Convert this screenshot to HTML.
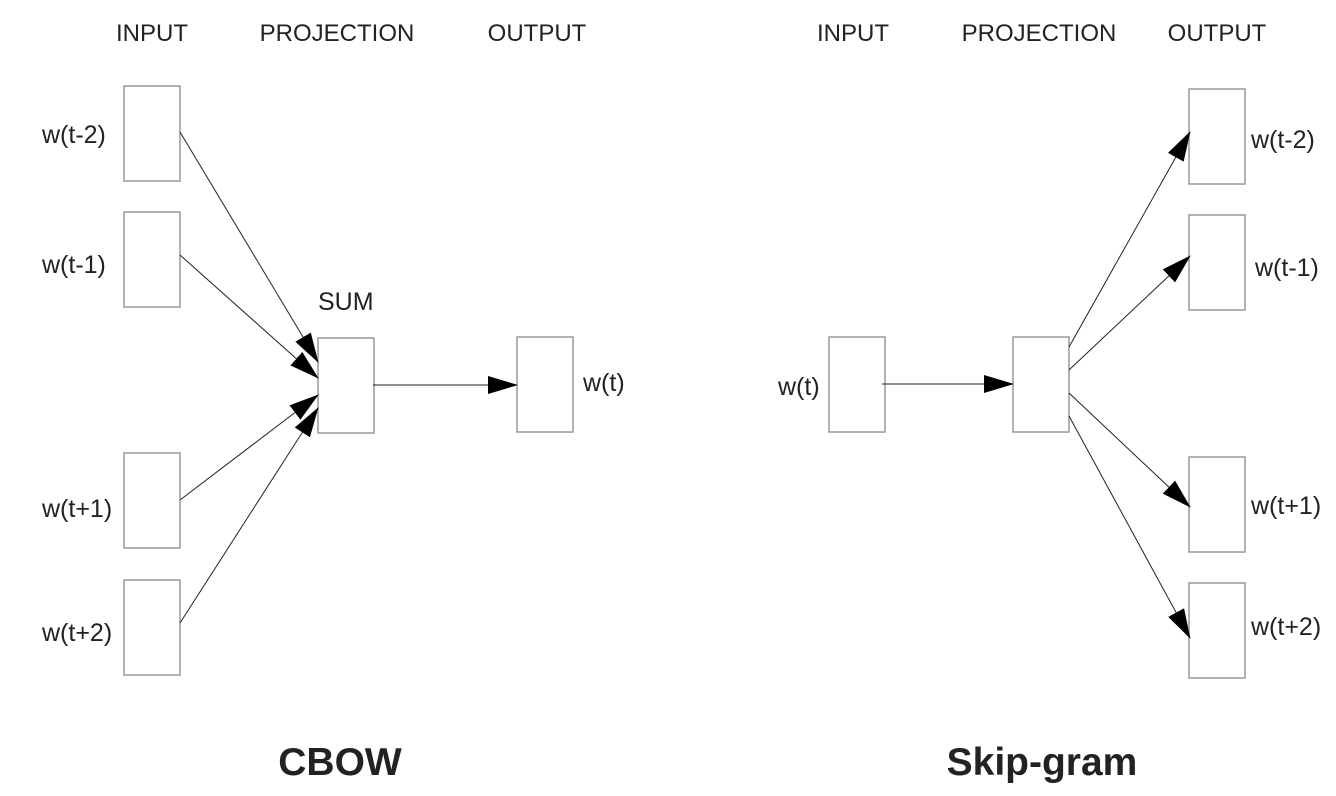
<!DOCTYPE html>
<html><head><meta charset="utf-8"><style>
html,body{margin:0;padding:0;background:#fff;}
svg{display:block;}
text{font-family:"Liberation Sans",Arial,sans-serif;fill:#222;}
</style></head><body>
<svg width="1336" height="796" viewBox="0 0 1336 796" xmlns="http://www.w3.org/2000/svg">
<defs>
<marker id="a" markerWidth="30" markerHeight="20" refX="29" refY="10" orient="auto" markerUnits="userSpaceOnUse">
<path d="M0,1 L30,10 L0,19 Z" fill="#000"/>
</marker>
</defs>
<g font-size="24" text-anchor="middle">
<text x="152" y="41">INPUT</text>
<text x="337" y="41">PROJECTION</text>
<text x="537" y="41">OUTPUT</text>
<text x="853" y="41">INPUT</text>
<text x="1039" y="41">PROJECTION</text>
<text x="1217" y="41">OUTPUT</text>
</g>
<g fill="#fff" stroke="#999" stroke-width="1.5">
<rect x="124" y="86" width="56" height="95"/>
<rect x="124" y="212" width="56" height="95"/>
<rect x="124" y="453" width="56" height="95"/>
<rect x="124" y="580" width="56" height="95"/>
<rect x="318" y="338" width="56" height="95"/>
<rect x="517" y="337" width="56" height="95"/>
<rect x="829" y="337" width="56" height="95"/>
<rect x="1013" y="337" width="56" height="95"/>
<rect x="1189" y="89" width="56" height="95"/>
<rect x="1189" y="215" width="56" height="95"/>
<rect x="1189" y="457" width="56" height="95"/>
<rect x="1189" y="583" width="56" height="95"/>
</g>
<g stroke="#222" stroke-width="1" marker-end="url(#a)">
<line x1="180" y1="132" x2="318" y2="362"/>
<line x1="180" y1="255" x2="318" y2="378"/>
<line x1="180" y1="500" x2="318" y2="395"/>
<line x1="180" y1="623" x2="318" y2="408"/>
<line x1="373" y1="385" x2="517" y2="385"/>
<line x1="882" y1="384" x2="1013" y2="384"/>
<line x1="1069" y1="347" x2="1190" y2="132"/>
<line x1="1069" y1="370" x2="1190" y2="256"/>
<line x1="1069" y1="393" x2="1190" y2="507"/>
<line x1="1069" y1="416" x2="1190" y2="638"/>
</g>
<g font-size="25">
<text x="42" y="143">w(t-2)</text>
<text x="42" y="273">w(t-1)</text>
<text x="42" y="517">w(t+1)</text>
<text x="42" y="641">w(t+2)</text>
<text x="318" y="310">SUM</text>
<text x="583" y="391">w(t)</text>
<text x="778" y="395">w(t)</text>
<text x="1251" y="148">w(t-2)</text>
<text x="1255" y="276">w(t-1)</text>
<text x="1251" y="514">w(t+1)</text>
<text x="1251" y="635">w(t+2)</text>
</g>
<g font-size="39" font-weight="bold" text-anchor="middle">
<text x="340" y="775">CBOW</text>
<text x="1042" y="775">Skip-gram</text>
</g>
</svg>
</body></html>
